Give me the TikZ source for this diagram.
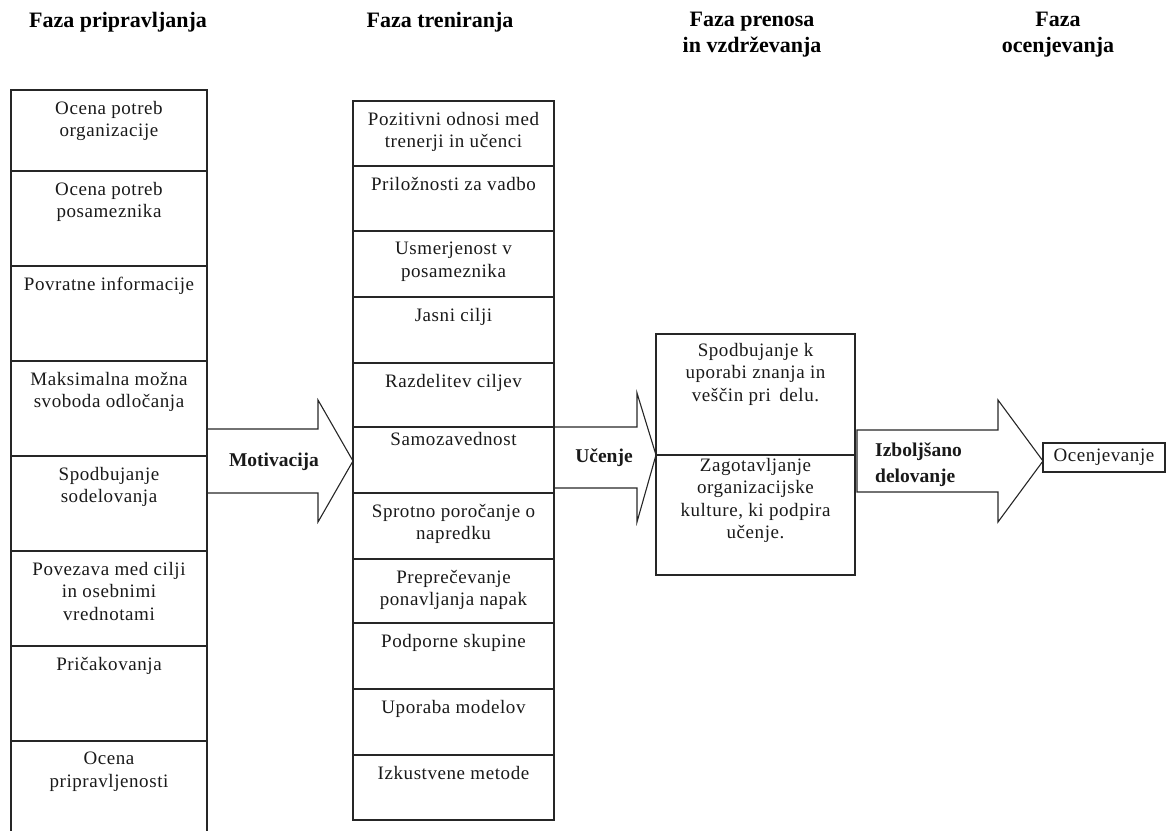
\documentclass[tikz,border=0pt]{standalone}
\usepackage{fontspec}
\setmainfont{Liberation Serif}
\newfontfamily\bodyfam[LetterSpace=3]{Liberation Serif}
\newfontfamily\headfam{Liberation Serif}
\newcommand{\bodyfont}{\bodyfam\fontsize{19}{22.5}\selectfont}
\newcommand{\headfont}{\headfam\bfseries\fontsize{22}{26}\selectfont}
\newcommand{\lblfont}{\headfam\bfseries\fontsize{19.5}{26}\selectfont}
\tikzset{
  cell/.style={draw=black!85, line width=1.1pt, anchor=north west, inner sep=0pt, outer sep=0pt},
  ctext/.style={anchor=north, align=center, font=\bodyfont, inner sep=0pt, text=black!90, yshift=-11pt},
  phase/.style={anchor=north, align=center, font=\headfont, inner sep=0pt},
  blockarrow/.style={draw=black!85, line width=1.1pt, line join=miter},
  alabel/.style={font=\lblfont, inner sep=0pt, text=black!90}
}
\begin{document}
\begin{tikzpicture}[x=1pt,y=-1pt]
\path[use as bounding box, clip] (0,0) rectangle (1167,830);

% headings
\node[phase] (H1) at (118,12) {Faza pripravljanja};
\node[phase] (H2) at (440,12) {Faza treniranja};
\node[phase] (H3) at (752,12) {Faza prenosa\\in vzdrževanja};
\node[phase] (H4) at (1058,12) {Faza\\ocenjevanja};

% left column
\node[cell, minimum width=196pt, minimum height=81pt] (L1) at (11,90) {};
\node[cell, minimum width=196pt, minimum height=95pt] (L2) at (11,171) {};
\node[cell, minimum width=196pt, minimum height=95pt] (L3) at (11,266) {};
\node[cell, minimum width=196pt, minimum height=95pt] (L4) at (11,361) {};
\node[cell, minimum width=196pt, minimum height=95pt] (L5) at (11,456) {};
\node[cell, minimum width=196pt, minimum height=95pt] (L6) at (11,551) {};
\node[cell, minimum width=196pt, minimum height=95pt] (L7) at (11,646) {};
\node[cell, minimum width=196pt, minimum height=100pt] (L8) at (11,741) {};
\node[ctext] (LT1) at (L1.north) {Ocena potreb\\organizacije};
\node[ctext] (LT2) at (L2.north) {Ocena potreb\\posameznika};
\node[ctext] (LT3) at (L3.north) {Povratne informacije};
\node[ctext] (LT4) at (L4.north) {Maksimalna možna\\svoboda odločanja};
\node[ctext] (LT5) at (L5.north) {Spodbujanje\\sodelovanja};
\node[ctext] (LT6) at (L6.north) {Povezava med cilji\\in osebnimi\\vrednotami};
\node[ctext] (LT7) at (L7.north) {Pričakovanja};
\node[ctext] (LT8) at (L8.north) {Ocena\\pripravljenosti};

% middle column
\node[cell, minimum width=201pt, minimum height=65pt] (M1) at (353,101) {};
\node[cell, minimum width=201pt, minimum height=65pt] (M2) at (353,166) {};
\node[cell, minimum width=201pt, minimum height=66pt] (M3) at (353,231) {};
\node[cell, minimum width=201pt, minimum height=66pt] (M4) at (353,297) {};
\node[cell, minimum width=201pt, minimum height=64pt] (M5) at (353,363) {};
\node[cell, minimum width=201pt, minimum height=66pt] (M6) at (353,427) {};
\node[cell, minimum width=201pt, minimum height=66pt] (M7) at (353,493) {};
\node[cell, minimum width=201pt, minimum height=64pt] (M8) at (353,559) {};
\node[cell, minimum width=201pt, minimum height=66pt] (M9) at (353,623) {};
\node[cell, minimum width=201pt, minimum height=66pt] (M10) at (353,689) {};
\node[cell, minimum width=201pt, minimum height=65pt] (M11) at (353,755) {};
\node[ctext] (MT1) at (M1.north) {Pozitivni odnosi med\\trenerji in učenci};
\node[ctext] (MT2) at (M2.north) {Priložnosti za vadbo};
\node[ctext] (MT3) at (M3.north) {Usmerjenost v\\posameznika};
\node[ctext] (MT4) at (M4.north) {Jasni cilji};
\node[ctext] (MT5) at (M5.north) {Razdelitev ciljev};
\node[ctext, yshift=6pt] (MT6) at (M6.north) {Samozavednost};
\node[ctext] (MT7) at (M7.north) {Sprotno poročanje o\\napredku};
\node[ctext] (MT8) at (M8.north) {Preprečevanje\\ponavljanja napak};
\node[ctext] (MT9) at (M9.north) {Podporne skupine};
\node[ctext] (MT10) at (M10.north) {Uporaba modelov};
\node[ctext] (MT11) at (M11.north) {Izkustvene metode};

% right (transfer) box
\node[cell, minimum width=199pt, minimum height=121pt] (R1) at (656,334) {};
\node[cell, minimum width=199pt, minimum height=120pt] (R2) at (656,455) {};
\node[ctext, yshift=2pt] (RT1) at (R1.north) {Spodbujanje k\\uporabi znanja in\\veščin pri\, delu.};
\node[ctext, yshift=8pt] (RT2) at (R2.north) {Zagotavljanje\\organizacijske\\kulture, ki podpira\\učenje.};

% evaluation box
\node[cell, minimum width=122pt, minimum height=29pt] (E) at (1043,443) {};
\node[font=\bodyfont, inner sep=0pt, text=black!90] (ET) at (E.center) {Ocenjevanje};

% block arrows
\draw[blockarrow] (L5.north east |- 0,429) -- (318,429) -- (318,400) -- (M6.west |- 0,461)
  -- (318,522) -- (318,493) -- (L5.north east |- 0,493) -- cycle;
\node[alabel] (A1) at (274,462) {Motivacija};

\draw[blockarrow] (M6.north east |- 0,427) -- (637,427) -- (637,393) -- (R2.north west)
  -- (637,522) -- (637,488) -- (M6.north east |- 0,488) -- cycle;
\node[alabel] (A2) at (604,458) {Učenje};

\draw[blockarrow] (857,430) -- (998,430) -- (998,400) -- (E.west |- 0,461)
  -- (998,522) -- (998,492) -- (857,492) -- cycle;
\node[alabel, align=left, anchor=west] (A3) at (875,465) {Izboljšano\\delovanje};
\end{tikzpicture}
\end{document}
